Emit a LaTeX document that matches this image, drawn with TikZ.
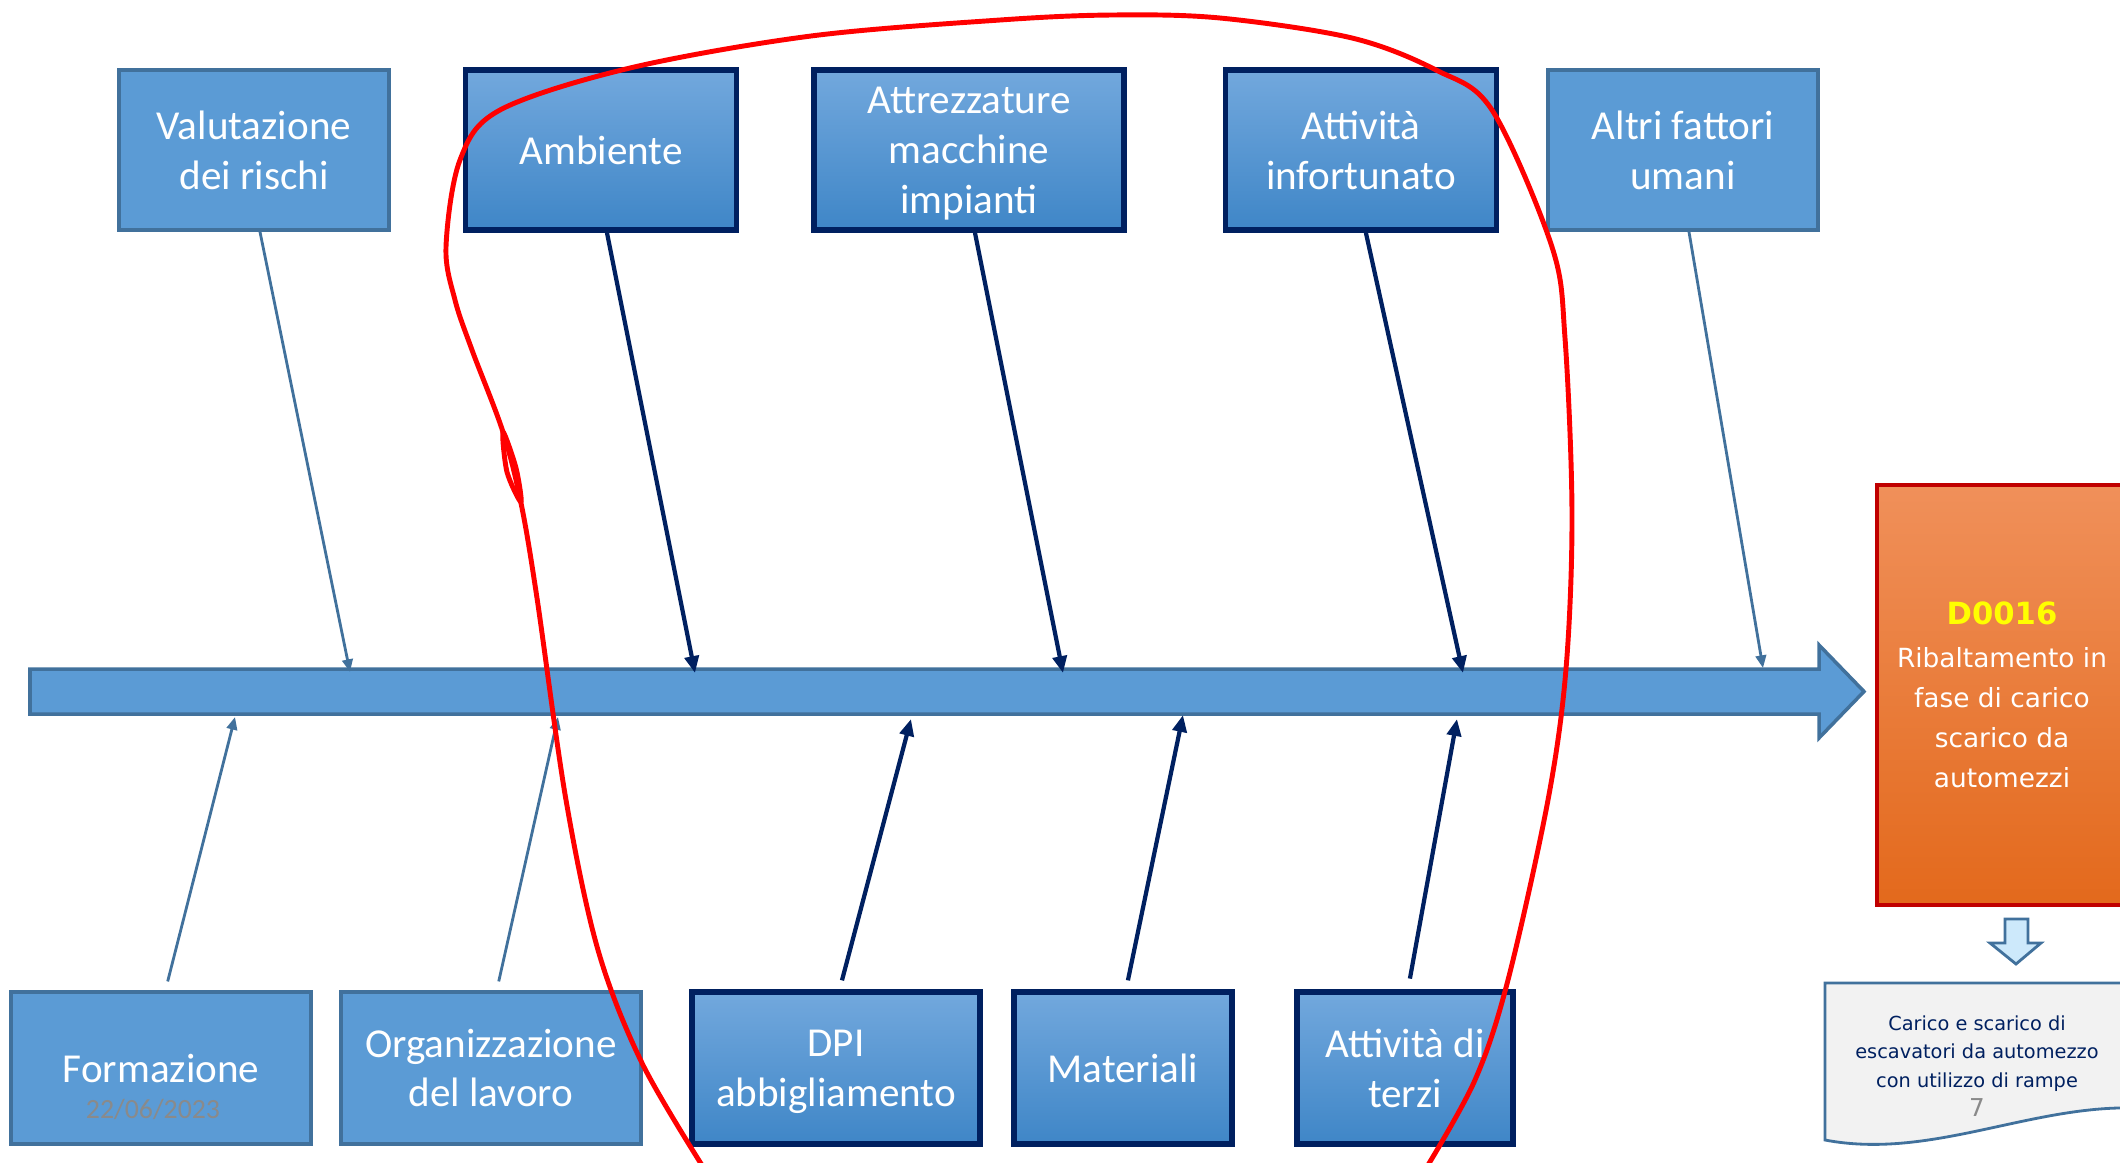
\documentclass[tikz,border=0pt]{standalone}
\usepackage{fontspec}
\setmainfont{Carlito}
\newfontfamily\verdfont{DejaVu Sans}
\usetikzlibrary{arrows.meta}
\definecolor{boxblue}{HTML}{5B9BD5}
\definecolor{edgeblue}{HTML}{41719C}
\definecolor{navy}{HTML}{002060}
\definecolor{gradtop}{HTML}{72A8DD}
\definecolor{gradbot}{HTML}{3F86C7}
\definecolor{orangetop}{HTML}{F0905A}
\definecolor{orangebot}{HTML}{E3691C}
\definecolor{darkred}{HTML}{C00000}
\definecolor{docgray}{HTML}{F2F2F2}
\definecolor{hintblue}{HTML}{CDE9FB}
\definecolor{datgray}{HTML}{8A8A8A}
\definecolor{eventyellow}{HTML}{FFFF00}
\newcommand\catfont{\fontsize{11.7}{14.2}\selectfont}
\newcommand\nodepth[1]{\raisebox{0pt}[\height][0pt]{#1}}
\begin{document}
\begin{tikzpicture}[x=0.01cm,y=-0.01cm,
    cause/.style={draw=edgeblue,line width=1pt,fill=boxblue,text=white,font=\catfont,
      align=center,inner sep=0pt,minimum height=1.6cm},
    keycause/.style={draw=navy,line width=1.6pt,top color=gradtop,bottom color=gradbot,
      text=white,font=\catfont,align=center,inner sep=0pt,minimum height=1.6cm},
    thinarr/.style={draw=edgeblue,line width=0.8pt,-{Triangle[length=3.6pt,width=3pt]}},
    keyarr/.style={draw=navy,line width=1.2pt,-{Triangle[length=4.8pt,width=4pt]}},
    annot/.style={draw=red,line width=1.4pt,line cap=round,line join=round}]
  \useasboundingbox (0,0) rectangle (2120,1163);
  % spine
  \filldraw[fill=boxblue,draw=edgeblue,line width=1pt] (30,669) -- (1819,669) -- (1819,645)
    -- (1864,691.5) -- (1819,738) -- (1819,714) -- (30,714) -- cycle;
  \coordinate (t1) at (350,672);
  \coordinate (t2) at (695,673);
  \coordinate (t3) at (1063,673);
  \coordinate (t4) at (1463,673);
  \coordinate (t5) at (1763,668);
  \coordinate (b1) at (235,717);
  \coordinate (b2) at (558,717);
  \coordinate (b3) at (911,719);
  \coordinate (b4) at (1183,715);
  \coordinate (b5) at (1457,719);
  % causes above
  \node[cause,minimum width=2.7cm] (valut) at (254,150) {Valutazione\\dei rischi};
  \node[keycause,minimum width=2.71cm] (amb) at (601,150) {Ambiente};
  \node[keycause,minimum width=3.1cm] (attr) at (969,150) {Attrezzature\\macchine\\\nodepth{impianti}};
  \node[keycause,minimum width=2.71cm] (attinf) at (1361,150) {Attività\\infortunato};
  \node[cause,minimum width=2.7cm] (altri) at (1683,150) {Altri fattori\\umani};
  % causes below
  \node[cause,minimum width=3cm,minimum height=1.52cm] (form) at (161,1068) {Formazione};
  \node[cause,minimum width=3cm,minimum height=1.52cm] (org) at (491,1068) {Organizzazione\\del lavoro};
  \node[keycause,minimum width=2.88cm,minimum height=1.52cm] (dpi) at (836,1068) {DPI\\\nodepth{abbigliamento}};
  \node[keycause,minimum width=2.18cm,minimum height=1.52cm] (mat) at (1123,1068) {Materiali};
  \node[keycause,minimum width=2.16cm,minimum height=1.52cm] (terzi) at (1405,1068) {Attività di\\terzi};
  \node[text=datgray,font=\fontsize{7.9}{9}\selectfont] (date) at (153,1109) {22/06/2023};
  % event
  \node[draw=darkred,line width=1.1pt,top color=orangetop,bottom color=orangebot,
    minimum width=2.5cm,minimum height=4.2cm,inner sep=0pt,text=white,align=center,
    font=\verdfont\fontsize{7.5}{11.4}\selectfont] (event) at (2002,695)
    {{\bfseries\fontsize{8.7}{11}\selectfont\color{eventyellow}D0016}\\[0.8pt]Ribaltamento in\\fase di carico\\scarico da\\automezzi};
  \filldraw[fill=hintblue,draw=edgeblue,line width=0.8pt] (2005,919) -- (2028,919) -- (2028,943)
    -- (2041,943) -- (2016,964) -- (1990,943) -- (2005,943) -- cycle;
  \filldraw[fill=docgray,draw=edgeblue,line width=0.8pt] (1825,983) -- (2135,983) -- (2135,1108)
    .. controls (2030,1105) and (1930,1160) .. (1825,1140) -- cycle;
  \node[text=navy,align=center,font=\verdfont\fontsize{5.5}{8.2}\selectfont] (note) at (1977,1066)
    {Carico e scarico di\\escavatori da automezzo\\con utilizzo di rampe\\{\fontsize{7}{8.2}\selectfont\color{datgray}7}};
  % connectors
  \path ([xshift=1.7pt]valut.south) edge [thinarr] (t1)
        ([xshift=1.7pt]amb.south) edge [keyarr] (t2)
        ([xshift=1.7pt]attr.south) edge [keyarr] (t3)
        ([xshift=1.4pt]attinf.south) edge [keyarr] (t4)
        ([xshift=1.7pt]altri.south) edge [thinarr] (t5)
        ([xshift=1.9pt,yshift=2.5pt]form.north) edge [thinarr] (b1)
        ([xshift=2.2pt,yshift=2.5pt]org.north) edge [thinarr] (b2)
        ([xshift=1.7pt,yshift=2.5pt]dpi.north) edge [keyarr] (b3)
        ([xshift=1.4pt,yshift=2.5pt]mat.north) edge [keyarr] (b4)
        ([xshift=1.4pt,yshift=3pt]terzi.north) edge [keyarr] (b5);
  % hand-drawn mark
  \draw[annot] plot[smooth,tension=0.55] coordinates {(1425,1170) (1475,1080) (1508,980) (1548,800)
    (1566,669) (1572,514) (1565,338) (1552,247) (1492,110) (1436,70) (1352,38) (1220,18) (1112,15)
    (1000,20) (811,36) (630,68) (500,110) (460,160) (446,247) (455,300) (472,350) (503,432)
    (521,503) (537,598) (566,800) (598,950) (642,1063) (705,1170)};
  \draw[annot] plot[smooth cycle] coordinates {(503,432) (516,468) (521,502) (507,472)};
\end{tikzpicture}
\end{document}
